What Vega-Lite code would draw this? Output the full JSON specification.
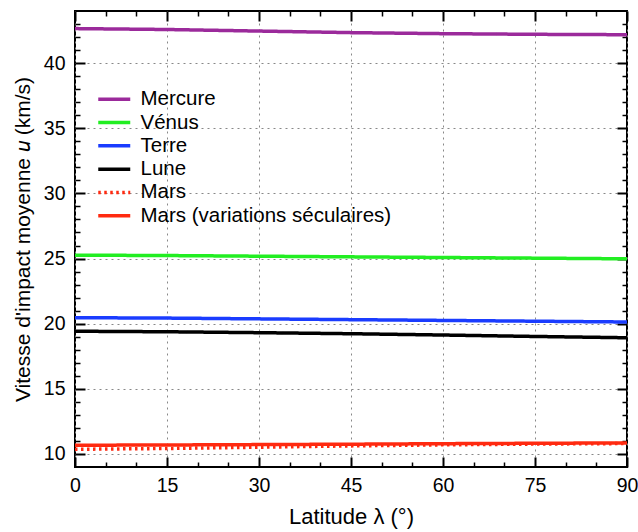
{
  "$schema": "https://vega.github.io/schema/vega-lite/v6.json",
  "width": 552,
  "height": 456,
  "autosize": "none",
  "padding": {"left": 75, "top": 11, "right": 11, "bottom": 65},
  "background": "white",
  "config": {
    "font": "Liberation Sans",
    "view": {"stroke": "black", "strokeWidth": 2},
    "axis": {"labelFont": "Liberation Sans", "titleFont": "Liberation Sans", "labelColor": "black", "titleColor": "black", "titleFontWeight": "normal", "labelFontSize": 19.5, "titleFontSize": 21, "domain": false, "grid": false},
    "legend": {"orient": "none", "legendX": 13, "legendY": 78, "labelFontSize": 20.5, "labelFont": "Liberation Sans", "labelColor": "black", "labelLimit": 500, "symbolType": "M0,0H4", "symbolSize": 256, "symbolStrokeWidth": 3.5, "labelOffset": 32, "rowPadding": 2.3, "title": null}
  },
  "data": {"values": [
    {"lat": 0, "u": 42.65, "planet": "Mercure"}, {"lat": 15, "u": 42.58, "planet": "Mercure"}, {"lat": 30, "u": 42.46, "planet": "Mercure"}, {"lat": 45, "u": 42.34, "planet": "Mercure"}, {"lat": 60, "u": 42.26, "planet": "Mercure"}, {"lat": 75, "u": 42.21, "planet": "Mercure"}, {"lat": 90, "u": 42.18, "planet": "Mercure"},
    {"lat": 0, "u": 25.26, "planet": "Vénus"}, {"lat": 15, "u": 25.23, "planet": "Vénus"}, {"lat": 30, "u": 25.18, "planet": "Vénus"}, {"lat": 45, "u": 25.13, "planet": "Vénus"}, {"lat": 60, "u": 25.08, "planet": "Vénus"}, {"lat": 75, "u": 25.03, "planet": "Vénus"}, {"lat": 90, "u": 24.98, "planet": "Vénus"},
    {"lat": 0, "u": 20.46, "planet": "Terre"}, {"lat": 15, "u": 20.43, "planet": "Terre"}, {"lat": 30, "u": 20.37, "planet": "Terre"}, {"lat": 45, "u": 20.31, "planet": "Terre"}, {"lat": 60, "u": 20.25, "planet": "Terre"}, {"lat": 75, "u": 20.19, "planet": "Terre"}, {"lat": 90, "u": 20.13, "planet": "Terre"},
    {"lat": 0, "u": 19.42, "planet": "Lune"}, {"lat": 15, "u": 19.38, "planet": "Lune"}, {"lat": 30, "u": 19.31, "planet": "Lune"}, {"lat": 45, "u": 19.23, "planet": "Lune"}, {"lat": 60, "u": 19.13, "planet": "Lune"}, {"lat": 75, "u": 19.02, "planet": "Lune"}, {"lat": 90, "u": 18.92, "planet": "Lune"},
    {"lat": 0, "u": 10.36, "planet": "Mars"}, {"lat": 15, "u": 10.42, "planet": "Mars"}, {"lat": 30, "u": 10.52, "planet": "Mars"}, {"lat": 45, "u": 10.62, "planet": "Mars"}, {"lat": 60, "u": 10.7, "planet": "Mars"}, {"lat": 75, "u": 10.76, "planet": "Mars"}, {"lat": 90, "u": 10.8, "planet": "Mars"},
    {"lat": 0, "u": 10.67, "planet": "Mars (variations séculaires)"}, {"lat": 15, "u": 10.69, "planet": "Mars (variations séculaires)"}, {"lat": 30, "u": 10.72, "planet": "Mars (variations séculaires)"}, {"lat": 45, "u": 10.75, "planet": "Mars (variations séculaires)"}, {"lat": 60, "u": 10.79, "planet": "Mars (variations séculaires)"}, {"lat": 75, "u": 10.82, "planet": "Mars (variations séculaires)"}, {"lat": 90, "u": 10.85, "planet": "Mars (variations séculaires)"}
  ]},
  "resolve": {"axis": {"x": "independent", "y": "independent"}},
  "layer": [
    {
      "mark": {"type": "line", "opacity": 0},
      "encoding": {
        "x": {"field": "lat", "type": "quantitative", "scale": {"domain": [0, 90], "nice": false}, "axis": {"orient": "bottom", "values": [0, 15, 30, 45, 60, 75, 90], "ticks": false, "labelPadding": 9, "title": "Latitude λ (°)", "titleFontSize": 22, "titlePadding": 12, "grid": true, "gridColor": "#888888", "gridDash": [2, 4], "gridWidth": 1, "labelFlush": false}},
        "y": {"field": "u", "type": "quantitative", "scale": {"domain": [9, 44], "nice": false, "zero": false}, "axis": {"orient": "left", "values": [10, 15, 20, 25, 30, 35, 40], "ticks": false, "labelPadding": 10, "title": "Vitesse d'impact moyenne 𝑢 (km/s)", "titlePadding": 10, "grid": true, "gridColor": "#888888", "gridDash": [2, 4], "gridWidth": 1}},
        "detail": {"field": "planet"}
      }
    },
    {
      "mark": {"type": "line", "opacity": 0},
      "encoding": {
        "x": {"field": "lat", "type": "quantitative", "axis": {"orient": "bottom", "values": [0, 15, 30, 45, 60, 75, 90], "labels": false, "tickSize": -10, "tickWidth": 2, "tickColor": "black", "title": null}},
        "y": {"field": "u", "type": "quantitative", "axis": {"orient": "left", "values": [10, 15, 20, 25, 30, 35, 40], "labels": false, "tickSize": -10, "tickWidth": 2, "tickColor": "black", "title": null}},
        "detail": {"field": "planet"}
      }
    },
    {
      "mark": {"type": "line", "opacity": 0},
      "encoding": {
        "x": {"field": "lat", "type": "quantitative", "axis": {"orient": "top", "values": [0, 15, 30, 45, 60, 75, 90], "labels": false, "tickSize": -10, "tickWidth": 2, "tickColor": "black", "title": null}},
        "y": {"field": "u", "type": "quantitative", "axis": {"orient": "right", "values": [10, 15, 20, 25, 30, 35, 40], "labels": false, "tickSize": -10, "tickWidth": 2, "tickColor": "black", "title": null}},
        "detail": {"field": "planet"}
      }
    },
    {
      "mark": {"type": "line", "opacity": 0},
      "encoding": {
        "x": {"field": "lat", "type": "quantitative", "axis": {"orient": "bottom", "values": [5, 10, 20, 25, 35, 40, 50, 55, 65, 70, 80, 85], "labels": false, "tickSize": -5, "tickWidth": 1.5, "tickColor": "black", "title": null}},
        "y": {"field": "u", "type": "quantitative", "axis": {"orient": "left", "values": [11, 12, 13, 14, 16, 17, 18, 19, 21, 22, 23, 24, 26, 27, 28, 29, 31, 32, 33, 34, 36, 37, 38, 39, 41, 42, 43], "labels": false, "tickSize": -5, "tickWidth": 1.5, "tickColor": "black", "title": null}},
        "detail": {"field": "planet"}
      }
    },
    {
      "mark": {"type": "line", "opacity": 0},
      "encoding": {
        "x": {"field": "lat", "type": "quantitative", "axis": {"orient": "top", "values": [5, 10, 20, 25, 35, 40, 50, 55, 65, 70, 80, 85], "labels": false, "tickSize": -5, "tickWidth": 1.5, "tickColor": "black", "title": null}},
        "y": {"field": "u", "type": "quantitative", "axis": {"orient": "right", "values": [11, 12, 13, 14, 16, 17, 18, 19, 21, 22, 23, 24, 26, 27, 28, 29, 31, 32, 33, 34, 36, 37, 38, 39, 41, 42, 43], "labels": false, "tickSize": -5, "tickWidth": 1.5, "tickColor": "black", "title": null}},
        "detail": {"field": "planet"}
      }
    },
    {
      "mark": {"type": "line", "strokeWidth": 3.5, "clip": true},
      "encoding": {
        "x": {"field": "lat", "type": "quantitative", "axis": null},
        "y": {"field": "u", "type": "quantitative", "axis": null},
        "color": {"field": "planet", "type": "nominal", "scale": {"domain": ["Mercure", "Vénus", "Terre", "Lune", "Mars", "Mars (variations séculaires)"], "range": ["#9b2a9b", "#22ee22", "#1a3cff", "#000000", "#ff2a10", "#ff2a10"]}, "legend": {"title": null}},
        "strokeDash": {"field": "planet", "type": "nominal", "scale": {"domain": ["Mercure", "Vénus", "Terre", "Lune", "Mars", "Mars (variations séculaires)"], "range": [[1, 0], [1, 0], [1, 0], [1, 0], [2.5, 3.5], [1, 0]]}, "legend": {"title": null}}
      }
    }
  ]
}
